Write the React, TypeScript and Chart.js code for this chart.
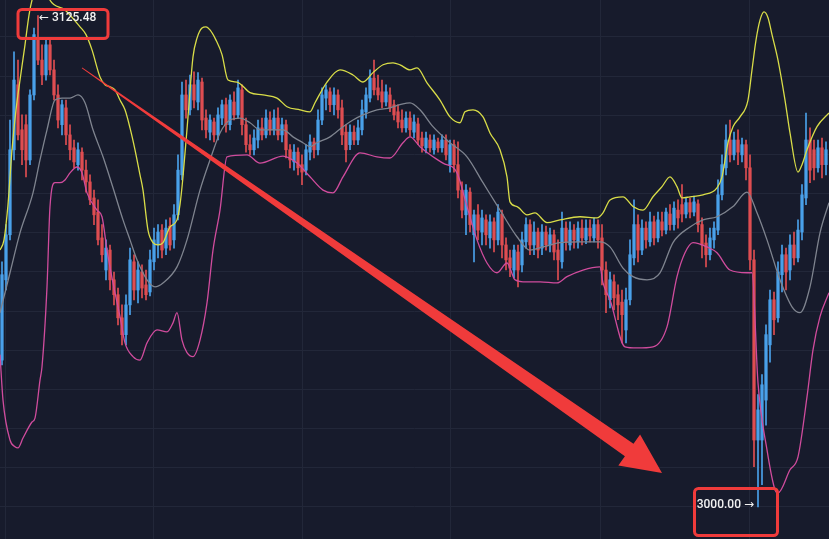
import React, { useEffect, useRef } from "react";
import { Chart, registerables } from "chart.js";

Chart.register(...registerables);

// ---------- data (prices) ----------
const opens = [
  3037.5, 3058.0, 3069.5, 3091.2, 3107.8, 3096.3, 3097.6, 3088.6, 3105.2, 3119.7,
  3114.1, 3110.3, 3118.0, 3111.6, 3105.2, 3097.6, 3101.9, 3095.0, 3091.7, 3087.4,
  3090.6, 3086.0, 3083.0, 3078.9, 3075.3, 3068.7, 3060.5, 3065.6, 3058.0, 3054.2,
  3048.3, 3044.0, 3051.6, 3062.6, 3055.4, 3060.0, 3056.7, 3054.9, 3062.6, 3066.9,
  3070.7, 3066.1, 3071.7, 3068.2, 3074.6, 3084.8, 3105.2, 3101.4, 3107.8, 3103.4,
  3108.5, 3099.3, 3095.7, 3098.3, 3095.0, 3099.3, 3102.7, 3097.6, 3103.4, 3100.1,
  3106.5, 3097.6, 3092.5, 3091.2, 3093.7, 3096.8, 3095.0, 3098.8, 3096.3, 3099.3,
  3095.0, 3097.6, 3091.2, 3088.1, 3090.6, 3087.4, 3086.0, 3090.6, 3093.2, 3091.2,
  3098.8, 3104.4, 3106.0, 3102.7, 3105.2, 3101.9, 3095.7, 3092.5, 3095.7, 3093.7,
  3096.3, 3100.9, 3104.4, 3109.5, 3107.0, 3106.0, 3103.4, 3105.2, 3102.7, 3100.9,
  3098.8, 3096.8, 3099.3, 3095.7, 3097.8, 3094.2, 3091.7, 3093.7, 3091.2, 3093.2,
  3091.7, 3093.7, 3087.4, 3092.5, 3087.4, 3080.9, 3074.6, 3080.4, 3069.5, 3074.6,
  3070.2, 3073.3, 3068.7, 3072.8, 3068.2, 3074.8, 3066.9, 3063.6, 3060.5, 3065.1,
  3061.8, 3067.7, 3072.1, 3066.9, 3070.2, 3066.1, 3070.2, 3066.9, 3069.5, 3065.6,
  3062.6, 3071.2, 3066.9, 3070.7, 3067.7, 3071.2, 3068.2, 3071.2, 3068.7, 3072.1,
  3068.7, 3060.5, 3052.9, 3057.5, 3054.2, 3052.3, 3045.2, 3052.9, 3063.6, 3072.1,
  3065.6, 3071.2, 3067.7, 3072.8, 3068.7, 3072.8, 3070.7, 3074.8, 3072.1, 3075.8,
  3077.2, 3074.8, 3077.7, 3075.3, 3077.4, 3072.1, 3067.4, 3064.4, 3068.2, 3070.7,
  3079.7, 3086.6, 3093.7, 3089.9, 3093.7, 3089.9, 3092.5, 3086.6, 3063.1, 3017.1,
  3017.1, 3027.3, 3041.4, 3052.9, 3048.3, 3059.3, 3064.4, 3060.5, 3066.9, 3063.6,
  3070.2, 3078.9, 3093.7, 3091.2, 3086.6, 3091.7, 3087.4,
];

const highs = [
  3062.6, 3072.1, 3098.8, 3116.2, 3114.1, 3100.1, 3100.1, 3106.5, 3122.3, 3125.48,
  3118.0, 3119.2, 3119.7, 3114.1, 3107.8, 3103.9, 3103.9, 3097.6, 3093.7, 3093.0,
  3091.7, 3088.6, 3084.8, 3080.9, 3078.4, 3072.1, 3068.2, 3066.9, 3060.0, 3055.9,
  3051.6, 3054.2, 3066.1, 3064.4, 3062.6, 3061.8, 3060.5, 3065.6, 3071.2, 3072.1,
  3072.1, 3073.3, 3073.8, 3077.2, 3089.9, 3108.5, 3109.0, 3110.3, 3111.1, 3110.9,
  3109.5, 3101.4, 3100.1, 3099.3, 3101.9, 3103.9, 3104.4, 3105.2, 3106.0, 3109.0,
  3107.8, 3099.3, 3095.0, 3096.3, 3098.8, 3099.3, 3101.4, 3100.9, 3101.4, 3101.9,
  3099.3, 3098.8, 3092.5, 3092.5, 3091.7, 3089.9, 3092.5, 3095.0, 3094.2, 3101.4,
  3107.0, 3107.8, 3107.0, 3107.0, 3106.5, 3103.9, 3097.6, 3097.6, 3097.3, 3098.8,
  3103.9, 3107.0, 3111.6, 3114.1, 3110.3, 3109.0, 3107.8, 3107.0, 3103.9, 3102.7,
  3101.4, 3100.9, 3100.9, 3100.1, 3099.3, 3095.7, 3095.7, 3095.0, 3095.0, 3094.2,
  3095.0, 3095.0, 3093.7, 3093.7, 3093.2, 3083.0, 3082.3, 3081.5, 3075.8, 3077.2,
  3075.8, 3074.6, 3074.6, 3073.8, 3077.2, 3075.8, 3068.7, 3065.6, 3066.9, 3066.9,
  3070.2, 3073.8, 3073.3, 3072.8, 3071.2, 3072.1, 3071.7, 3071.2, 3070.7, 3068.2,
  3075.3, 3072.8, 3072.8, 3072.1, 3072.8, 3073.3, 3073.3, 3073.3, 3073.8, 3073.3,
  3072.1, 3062.6, 3060.0, 3059.3, 3056.7, 3055.4, 3055.9, 3068.2, 3078.4, 3074.6,
  3073.3, 3072.8, 3075.3, 3074.3, 3075.3, 3075.3, 3076.3, 3077.2, 3077.9, 3078.4,
  3082.3, 3078.9, 3078.9, 3079.4, 3078.4, 3073.8, 3069.5, 3071.2, 3072.8, 3083.5,
  3089.9, 3097.6, 3098.8, 3095.7, 3096.3, 3094.2, 3093.7, 3089.9, 3065.6, 3028.7,
  3033.8, 3046.5, 3055.4, 3054.9, 3062.6, 3066.9, 3066.1, 3069.5, 3070.2, 3073.3,
  3082.3, 3100.6, 3096.8, 3093.7, 3093.7, 3094.2, 3093.2,
];

const lows = [
  3036.3, 3055.4, 3068.2, 3088.6, 3093.7, 3087.4, 3084.3, 3087.4, 3103.9, 3112.9,
  3107.8, 3109.0, 3110.3, 3103.9, 3096.8, 3095.0, 3092.5, 3088.6, 3086.6, 3086.0,
  3083.5, 3080.4, 3077.2, 3072.1, 3066.9, 3062.6, 3058.0, 3055.4, 3051.6, 3046.5,
  3041.4, 3041.4, 3049.1, 3052.9, 3052.1, 3053.4, 3052.9, 3053.9, 3060.5, 3063.6,
  3063.6, 3064.4, 3065.6, 3066.1, 3073.3, 3083.5, 3099.3, 3100.1, 3101.9, 3101.4,
  3096.3, 3094.2, 3093.7, 3093.2, 3093.7, 3097.6, 3095.7, 3096.3, 3098.8, 3099.3,
  3095.0, 3090.6, 3089.9, 3089.9, 3091.7, 3093.7, 3094.2, 3095.0, 3095.0, 3093.7,
  3093.2, 3089.1, 3086.6, 3086.0, 3084.8, 3082.3, 3084.8, 3088.6, 3089.1, 3089.9,
  3097.6, 3101.4, 3100.9, 3100.1, 3099.3, 3092.5, 3088.1, 3091.2, 3092.5, 3092.5,
  3095.0, 3099.3, 3103.4, 3105.2, 3103.9, 3101.9, 3102.4, 3100.9, 3098.8, 3096.8,
  3095.7, 3095.7, 3094.7, 3094.2, 3092.5, 3090.6, 3090.4, 3090.6, 3090.1, 3090.6,
  3090.6, 3088.6, 3085.5, 3085.5, 3078.9, 3073.8, 3069.5, 3070.2, 3062.6, 3068.2,
  3066.9, 3066.9, 3066.1, 3065.1, 3066.9, 3063.6, 3060.5, 3058.8, 3058.5, 3056.2,
  3060.0, 3066.1, 3064.4, 3064.4, 3063.6, 3064.4, 3065.6, 3065.1, 3063.1, 3058.0,
  3061.0, 3065.6, 3065.6, 3066.1, 3066.1, 3066.9, 3067.2, 3067.7, 3067.7, 3066.1,
  3056.7, 3049.6, 3050.8, 3050.3, 3047.8, 3041.9, 3041.9, 3051.6, 3061.8, 3062.6,
  3064.4, 3066.1, 3066.6, 3066.9, 3067.7, 3069.2, 3069.7, 3070.7, 3070.7, 3071.2,
  3072.8, 3073.8, 3073.8, 3074.3, 3070.2, 3063.6, 3061.3, 3063.1, 3066.1, 3069.5,
  3078.4, 3084.8, 3088.1, 3088.6, 3087.4, 3088.1, 3083.5, 3060.5, 3010.3, 3000.0,
  3005.7, 3020.9, 3037.0, 3044.0, 3047.2, 3054.9, 3055.4, 3058.0, 3061.8, 3062.6,
  3068.2, 3077.2, 3082.8, 3083.5, 3085.5, 3084.0, 3084.8,
];

const closes = [
  3059.3, 3069.5, 3091.2, 3109.0, 3095.0, 3091.2, 3088.6, 3105.2, 3120.6, 3114.1,
  3110.3, 3118.0, 3111.6, 3105.2, 3098.8, 3102.7, 3095.0, 3091.2, 3088.1, 3091.2,
  3086.0, 3083.0, 3078.4, 3074.6, 3068.2, 3064.4, 3066.1, 3058.0, 3054.2, 3048.3,
  3044.0, 3051.6, 3063.1, 3055.4, 3060.5, 3055.9, 3054.2, 3063.1, 3068.2, 3070.2,
  3065.6, 3071.2, 3066.9, 3074.6, 3086.0, 3105.2, 3101.4, 3107.8, 3103.9, 3109.0,
  3098.8, 3096.3, 3098.8, 3095.0, 3100.1, 3102.7, 3097.6, 3103.9, 3100.1, 3107.0,
  3097.6, 3092.5, 3091.2, 3094.2, 3096.8, 3095.0, 3099.3, 3096.3, 3099.3, 3095.0,
  3097.6, 3091.2, 3088.6, 3090.6, 3086.6, 3085.5, 3091.2, 3093.2, 3091.2, 3098.8,
  3105.2, 3106.5, 3102.7, 3105.2, 3101.4, 3095.0, 3091.2, 3095.7, 3093.7, 3096.8,
  3101.4, 3105.2, 3109.5, 3106.5, 3105.2, 3103.4, 3106.0, 3101.9, 3100.1, 3098.3,
  3096.8, 3099.3, 3096.3, 3098.3, 3093.7, 3092.2, 3094.2, 3091.7, 3093.7, 3091.7,
  3093.7, 3089.9, 3092.5, 3087.4, 3080.9, 3075.8, 3080.9, 3072.1, 3074.6, 3070.7,
  3073.8, 3069.5, 3072.8, 3068.2, 3075.3, 3066.9, 3063.1, 3061.0, 3065.6, 3060.5,
  3068.2, 3072.1, 3066.9, 3070.2, 3065.6, 3070.2, 3066.9, 3069.5, 3065.1, 3063.1,
  3071.2, 3067.7, 3070.7, 3068.2, 3071.2, 3068.7, 3071.2, 3069.2, 3072.1, 3068.2,
  3060.5, 3054.2, 3058.0, 3053.4, 3051.6, 3049.1, 3052.9, 3064.4, 3072.1, 3065.6,
  3071.2, 3068.2, 3072.8, 3068.7, 3073.3, 3070.7, 3075.3, 3072.1, 3076.3, 3073.8,
  3074.8, 3077.7, 3075.3, 3077.9, 3072.1, 3066.9, 3064.4, 3068.7, 3071.2, 3079.7,
  3087.4, 3093.7, 3089.9, 3093.7, 3090.6, 3092.5, 3086.6, 3063.1, 3017.1, 3024.8,
  3031.2, 3044.0, 3052.9, 3047.8, 3060.0, 3064.4, 3060.0, 3066.9, 3063.6, 3070.7,
  3079.7, 3093.7, 3086.0, 3086.6, 3091.7, 3087.4, 3091.2,
];

// Bollinger bands: [candle index, price]
const upperBand = [
  [-0.5, 3065.6], [0.5, 3068.2], [1.5, 3077.2], [2.5, 3091.2], [3.5, 3101.4], [4.5, 3109.0],
  [5.75, 3118.0], [6.75, 3125.6], [7.5, 3129.4], [9.75, 3135.8], [12, 3129.4], [15.75, 3126.9],
  [19.5, 3122.6], [21, 3120.6], [22.5, 3116.7], [24.5, 3109.8], [25.75, 3107.8], [27, 3107.3],
  [28.25, 3106.5], [29.5, 3103.9], [30.75, 3101.4], [32, 3096.8], [33.25, 3091.2], [34.5, 3084.8],
  [35.25, 3080.9], [36.5, 3070.7], [37.75, 3067.5], [39, 3066.9], [40.25, 3067.5], [42, 3071.5],
  [43.75, 3073.3], [44.5, 3077.2], [45.25, 3084.3], [46.5, 3099.6], [47.75, 3114.9], [48.75, 3119.7],
  [50, 3122.3], [51, 3122.6], [52, 3121.8], [53.5, 3119.2], [55, 3115.5], [56.5, 3109.0],
  [58.75, 3108.5], [62, 3105.8], [65.25, 3105.2], [68.75, 3104.4], [71.25, 3102.2], [74.5, 3101.4],
  [77, 3100.9], [78.25, 3103.2], [81.25, 3108.5], [84.5, 3111.6], [87.75, 3110.3], [90.25, 3108.5],
  [92.75, 3110.9], [95.25, 3112.9], [97.75, 3113.4], [99.5, 3112.9], [102, 3111.6], [103.75, 3112.1],
  [106.25, 3108.3], [109.5, 3103.9], [112, 3099.6], [114.5, 3098.1], [115.75, 3100.9], [117.75, 3101.4],
  [120.25, 3099.6], [122, 3095.5], [124.5, 3091.2], [126.25, 3084.3], [127, 3077.9], [128.75, 3076.7],
  [131.25, 3074.6], [133.25, 3075.1], [136.25, 3072.6], [139.5, 3073.3], [144.5, 3074.1], [148.75, 3073.8],
  [150.25, 3075.1], [152, 3078.4], [155.25, 3079.2], [157.75, 3076.7], [160.25, 3075.8], [162.75, 3079.2],
  [165, 3081.8], [167, 3084.3], [168.75, 3081.8], [170, 3078.9], [172, 3079.2], [175.25, 3079.7],
  [178.75, 3081.5], [180, 3084.3], [181.5, 3093.0], [182.75, 3097.1], [184.5, 3099.6], [186.5, 3103.9],
  [187.5, 3111.6], [188.5, 3119.2], [189.5, 3124.3], [190.5, 3126.4], [191.5, 3124.9], [192.5, 3120.6],
  [194, 3114.1], [195.75, 3103.9], [197, 3095.5], [199, 3085.5], [200, 3087.4], [201.25, 3091.2],
  [203.75, 3097.1], [206.75, 3100.6],
];

const middleBand = [
  [-0.5, 3049.6], [2, 3059.8], [4.5, 3070.0], [7.75, 3080.2], [9.5, 3088.6], [11.25, 3096.3],
  [13.25, 3103.9], [15, 3104.4], [17, 3104.4], [19, 3105.2], [20.75, 3103.2], [22.75, 3096.3],
  [25.25, 3089.4], [27.75, 3081.5], [30.25, 3073.3], [32, 3068.2], [33.75, 3063.1], [36.25, 3058.0],
  [38.25, 3056.2], [40.25, 3057.2], [43.75, 3061.3], [46.25, 3068.2], [49.5, 3080.9], [52, 3088.6],
  [54.5, 3095.5], [57, 3098.8], [59.5, 3099.3], [62, 3098.1], [64.5, 3096.3], [67.75, 3096.3],
  [70.25, 3096.3], [72.75, 3094.5], [75.25, 3093.0], [77, 3092.0], [78.75, 3093.0], [82, 3094.5],
  [85.25, 3097.1], [87.75, 3098.8], [90.25, 3100.1], [93.75, 3101.4], [97, 3101.9], [99.5, 3102.7],
  [102, 3103.2], [104.5, 3101.4], [107.75, 3097.1], [112, 3093.0], [116.25, 3089.4], [120.25, 3082.8],
  [124.5, 3075.8], [128.75, 3069.0], [132, 3065.6], [135.25, 3066.4], [139.5, 3067.5], [144.5, 3067.7],
  [149.5, 3067.7], [152, 3066.4], [155.25, 3061.0], [157.75, 3058.8], [161.25, 3058.0], [164.5, 3059.8],
  [167.75, 3067.5], [172, 3071.5], [175.25, 3073.3], [178.75, 3074.1], [182.75, 3076.7], [186.25, 3080.4],
  [188.75, 3075.1], [191.25, 3068.2], [194.5, 3058.0], [197.5, 3051.1], [199.5, 3049.6], [202, 3056.2],
  [204.5, 3070.0], [206.75, 3077.7],
];

const lowerBand = [
  [-0.5, 3038.9], [0.25, 3027.3], [2, 3017.1], [3.25, 3015.4], [4, 3015.1], [5.25, 3017.6],
  [7.5, 3021.7], [8.25, 3022.7], [9.5, 3032.4], [10, 3035.8], [11.25, 3056.2], [12, 3076.7],
  [13.25, 3082.8], [14.5, 3082.8], [15.75, 3083.5], [17, 3085.3], [18.75, 3086.8], [20, 3085.3],
  [21.25, 3080.2], [23.75, 3075.8], [25, 3074.1], [26.25, 3065.6], [27.75, 3057.2], [29.5, 3048.6],
  [30.75, 3041.9], [32.75, 3038.4], [34.5, 3037.5], [36.25, 3041.9], [38.75, 3045.2], [41.25, 3044.7],
  [42.75, 3047.0], [43.75, 3049.6], [45, 3042.6], [46.25, 3039.4], [47.75, 3038.4], [49.5, 3042.6],
  [51.25, 3052.1], [52.75, 3065.6], [54.5, 3075.8], [56.25, 3089.4], [61.25, 3089.9], [64.5, 3087.8],
  [70.25, 3089.6], [73.75, 3087.8], [77, 3084.3], [80.25, 3080.9], [82.75, 3080.2], [85.25, 3084.3],
  [89.5, 3090.4], [93.75, 3089.4], [97, 3089.1], [100.25, 3093.0], [102, 3094.5], [104.5, 3092.0],
  [107.75, 3089.4], [110.25, 3087.8], [113.75, 3085.3], [116.25, 3076.7], [118.75, 3068.2], [121.25, 3062.3],
  [123.75, 3059.8], [126.25, 3062.3], [128.25, 3058.0], [130.25, 3057.5], [134.5, 3057.5], [138.75, 3057.2],
  [141.25, 3058.8], [145.25, 3060.5], [149.5, 3061.3], [150.25, 3057.2], [152, 3052.9], [155.75, 3040.9],
  [158.75, 3040.6], [162.75, 3040.9], [166.25, 3046.0], [168.75, 3058.8], [170.75, 3064.9], [172.75, 3067.5],
  [176.25, 3066.4], [178.75, 3064.9], [182, 3060.5], [186.25, 3059.8], [187.5, 3059.8], [189, 3031.7],
  [191.25, 3014.6], [193.25, 3004.4], [194, 3003.6], [197, 3009.5], [199, 3012.8], [201.25, 3028.1],
  [202.75, 3040.1], [204.5, 3048.6], [206.75, 3054.7],
];

const gridPrices = [3000, 3010, 3020, 3030, 3040, 3050, 3060, 3070, 3080, 3090, 3100, 3110, 3120];
const gridIndexes = [0.75, 37.75, 75, 112.25, 149.5, 186.75];

// annotation arrow (candle index, price)
const arrowFrom = { x: 20, y: 3112.1 };
const arrowTo = { x: 165, y: 3008.7 };

// ---------- styles ----------
const BG = "#171b2c";
const GRID = "#222739";
const UP = "#4aa1ea";
const DOWN = "#df4e52";
const YELLOW = "#d9dd48";
const GRAY = "#7f848f";
const PINK = "#d04c9d";
const MARK = "#f03b3b";

export default function App() {
  const ref = useRef<HTMLCanvasElement>(null);

  useEffect(() => {
    document.body.style.margin = "0";
    document.body.style.background = BG;
    const canvas = ref.current;
    if (!canvas) return;

    const idx = opens.map((_, i) => i);
    const colors = idx.map((i) => (closes[i] >= opens[i] ? UP : DOWN));
    const hiIdx = highs.indexOf(Math.max(...highs));
    const loIdx = lows.indexOf(Math.min(...lows));

    const bgPlugin = {
      id: "bg",
      beforeDraw(chart: any) {
        const c = chart.ctx;
        c.save();
        c.fillStyle = BG;
        c.fillRect(0, 0, chart.width, chart.height);
        c.restore();
      },
    };

    const annotPlugin = {
      id: "annot",
      afterDatasetsDraw(chart: any) {
        const { ctx } = chart;
        const xs = chart.scales.x;
        const ys = chart.scales.y;
        // arrow
        const sx = xs.getPixelForValue(arrowFrom.x);
        const sy = ys.getPixelForValue(arrowFrom.y);
        const ex = xs.getPixelForValue(arrowTo.x);
        const ey = ys.getPixelForValue(arrowTo.y);
        const dx = ex - sx, dy = ey - sy;
        const len = Math.hypot(dx, dy);
        const ux = dx / len, uy = dy / len;
        const nx = -uy, ny = ux;
        const headLen = 40, headHalf = 19, w0 = 0.8, w1 = 15;
        const bx = ex - ux * headLen, by = ey - uy * headLen;
        ctx.save();
        ctx.fillStyle = MARK;
        ctx.beginPath();
        ctx.moveTo(sx + (nx * w0) / 2, sy + (ny * w0) / 2);
        ctx.lineTo(bx + (nx * w1) / 2, by + (ny * w1) / 2);
        ctx.lineTo(bx + nx * headHalf, by + ny * headHalf);
        ctx.lineTo(ex, ey);
        ctx.lineTo(bx - nx * headHalf, by - ny * headHalf);
        ctx.lineTo(bx - (nx * w1) / 2, by - (ny * w1) / 2);
        ctx.lineTo(sx - (nx * w0) / 2, sy - (ny * w0) / 2);
        ctx.closePath();
        ctx.fill();

        const box = (x: number, y: number, w: number, h: number) => {
          ctx.beginPath();
          if ((ctx as any).roundRect) (ctx as any).roundRect(x, y, w, h, 4);
          else ctx.rect(x, y, w, h);
          ctx.lineWidth = 3;
          ctx.strokeStyle = MARK;
          ctx.stroke();
        };
        ctx.font = "500 12px Roboto, 'DejaVu Sans', sans-serif";
        ctx.fillStyle = "#f2f2f2";
        ctx.textBaseline = "middle";

        // high label
        const hx = xs.getPixelForValue(hiIdx);
        const hy = ys.getPixelForValue(highs[hiIdx]);
        box(hx - 20, hy - 6, 90, 29);
        ctx.textAlign = "left";
        ctx.fillText("\u2190 " + highs[hiIdx].toFixed(2), hx + 1, hy + 2);

        // low label
        const lx = xs.getPixelForValue(loIdx);
        const ly = ys.getPixelForValue(lows[loIdx]);
        box(lx - 63.5, ly - 18.5, 83, 47);
        ctx.textAlign = "right";
        ctx.fillText(lows[loIdx].toFixed(2) + " \u2192", lx - 4, ly - 2);
        ctx.restore();
      },
    };

    const band = (pts: number[][], color: string) => ({
      type: "line" as const,
      data: pts.map(([x, y]) => ({ x, y })),
      borderColor: color,
      borderWidth: 1.3,
      pointRadius: 0,
      cubicInterpolationMode: "monotone" as const,
      fill: false,
      order: 0,
    });

    const chart = new Chart(canvas, {
      type: "bar",
      data: {
        datasets: [
          band(upperBand, YELLOW),
          band(middleBand, GRAY),
          band(lowerBand, PINK),
          {
            type: "bar",
            data: idx.map((i) => ({ x: i, y: [lows[i], highs[i]] })) as any,
            backgroundColor: colors,
            barThickness: 1,
            grouped: false,
            borderWidth: 0,
            order: 1,
          } as any,
          {
            type: "bar",
            data: idx.map((i) => ({ x: i, y: [opens[i], closes[i]] })) as any,
            backgroundColor: colors,
            barThickness: 2.6,
            grouped: false,
            borderWidth: 0,
            order: 1,
          } as any,
        ],
      },
      options: {
        animation: false,
        responsive: false,
        maintainAspectRatio: false,
        events: [],
        layout: { padding: 0 },
        plugins: { legend: { display: false }, tooltip: { enabled: false } },
        scales: {
          x: {
            type: "linear",
            min: -0.5,
            max: 206.75,
            offset: false,
            grid: { color: GRID, drawTicks: false, offset: false, lineWidth: 1 },
            border: { display: false },
            ticks: { display: false },
            afterBuildTicks: (s: any) => {
              s.ticks = gridIndexes.map((v) => ({ value: v }));
            },
          },
          y: {
            type: "linear",
            min: 2991.83,
            max: 3129.44,
            beginAtZero: false,
            grid: { color: GRID, drawTicks: false, lineWidth: 1 },
            border: { display: false },
            ticks: { display: false },
            afterBuildTicks: (s: any) => {
              s.ticks = gridPrices.map((v) => ({ value: v }));
            },
          },
        },
      } as any,
      plugins: [bgPlugin, annotPlugin],
    });

    return () => chart.destroy();
  }, []);

  return (
    <div style={{ width: 829, height: 539, overflow: "hidden", background: BG }}>
      <canvas ref={ref} width={829} height={539} style={{ display: "block" }} />
    </div>
  );
}
